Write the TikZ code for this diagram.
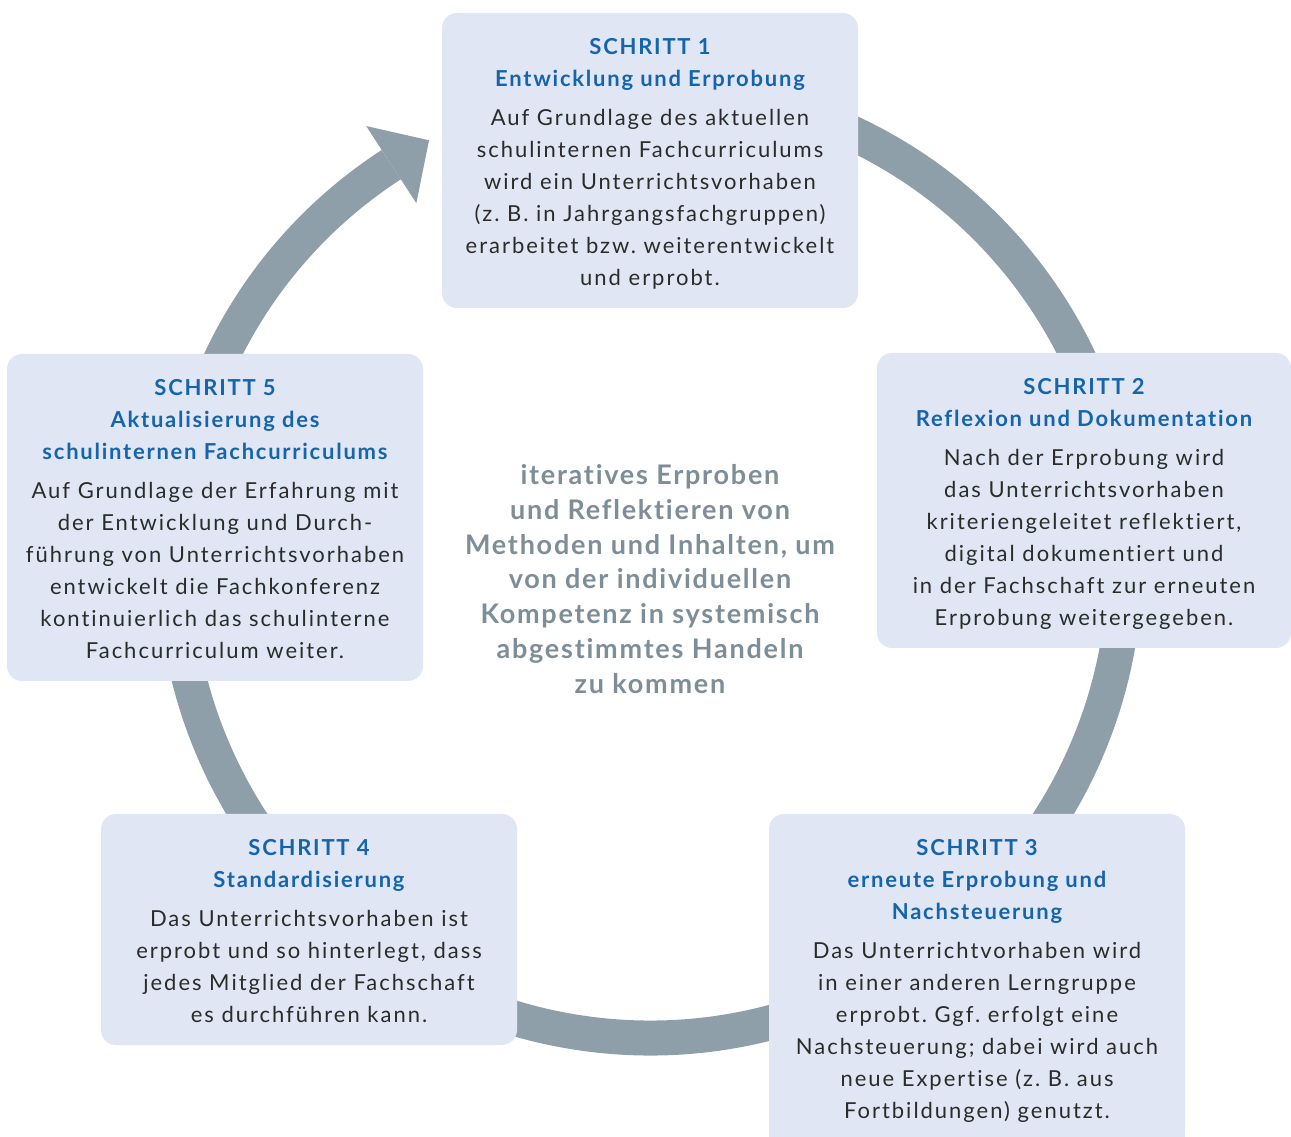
\documentclass[tikz,border=0pt]{standalone}
\usepackage{fontspec}
\setmainfont{Lato}
\usetikzlibrary{calc}
\definecolor{boxfill}{HTML}{E0E6F4}
\definecolor{ringgray}{HTML}{8E9FA9}
\definecolor{titleblue}{HTML}{1464AE}
\definecolor{bodytext}{HTML}{2B2B2B}
\definecolor{centergray}{HTML}{7D8E99}
\newfontfamily\bodyfont[LetterSpace=9,Ligatures=NoCommon]{Lato}
\newfontfamily\titlefont[LetterSpace=8,Ligatures=NoCommon]{Lato}
\newfontfamily\centerfont[LetterSpace=6.5,Ligatures=NoCommon]{Lato}
\newcommand\steptitle[1]{{\titlefont\color{titleblue}\bfseries #1}}
\frenchspacing
\begin{document}
\begin{tikzpicture}[x=1pt,y=1pt,
  stepbox/.style={fill=boxfill, rounded corners=15pt, inner sep=0pt},
  steptext/.style={anchor=north, align=center, inner sep=0pt, text=bodytext,
    font=\bodyfont\fontsize{22}{32}\selectfont\frenchspacing},
  ring/.style={draw=ringgray, line width=35pt},
  centertext/.style={align=center, inner sep=0pt, text=centergray,
    font=\centerfont\fontsize{27}{34.7}\selectfont\bfseries}]
\clip (0,0) rectangle (1291,1136);
\coordinate (C) at (650,573);

% circular cycle arrow behind the boxes
\draw[ring] ($(C)+(-237:475)$) arc[start angle=-237, end angle=110, radius=475];
\fill[ringgray] ($(C)+(123:521)$) -- ($(C)+(117.6:477)$) -- ($(C)+(123:429)$) -- cycle;

% step boxes
\node[stepbox, minimum width=416pt, minimum height=295pt] (s1) at (650,975.5) {};
\node[stepbox, minimum width=414pt, minimum height=295pt] (s2) at (1084,635.5) {};
\node[stepbox, minimum width=416pt, minimum height=336pt] (s3) at (977,154) {};
\node[stepbox, minimum width=416pt, minimum height=231pt] (s4) at (309,206.5) {};
\node[stepbox, minimum width=416pt, minimum height=327pt] (s5) at (215,618.5) {};

\node[steptext] (t1) at ($(s1.north)+(0,-25)$) {%
  \steptitle{SCHRITT 1}\\
  \steptitle{Entwicklung und Erprobung}\\[7pt]
  Auf Grundlage des aktuellen\\
  schulinternen Fachcurriculums\\
  wird ein Unterrichtsvorhaben\\
  (z. B. in Jahrgangsfachgruppen)\\
  erarbeitet bzw. weiterentwickelt\\
  und erprobt.};

\node[steptext] (t2) at ($(s2.north)+(0,-25)$) {%
  \steptitle{SCHRITT 2}\\
  \steptitle{Reflexion und Dokumentation}\\[7pt]
  Nach der Erprobung wird\\
  das Unterrichtsvorhaben\\
  kriteriengeleitet reflektiert,\\
  digital dokumentiert und\\
  in der Fachschaft zur erneuten\\
  Erprobung weitergegeben.};

\node[steptext] (t3) at ($(s3.north)+(0,-25)$) {%
  \steptitle{SCHRITT 3}\\
  \steptitle{erneute Erprobung und}\\
  \steptitle{Nachsteuerung}\\[7pt]
  Das Unterrichtvorhaben wird\\
  in einer anderen Lerngruppe\\
  erprobt. Ggf. erfolgt eine\\
  Nachsteuerung; dabei wird auch\\
  neue Expertise (z. B. aus\\
  Fortbildungen) genutzt.};

\node[steptext] (t4) at ($(s4.north)+(0,-25)$) {%
  \steptitle{SCHRITT 4}\\
  \steptitle{Standardisierung}\\[7pt]
  Das Unterrichtsvorhaben ist\\
  erprobt und so hinterlegt, dass\\
  jedes Mitglied der Fachschaft\\
  es durchführen kann.};

\node[steptext] (t5) at ($(s5.north)+(0,-25)$) {%
  \steptitle{SCHRITT 5}\\
  \steptitle{Aktualisierung des}\\
  \steptitle{schulinternen Fachcurriculums}\\[7pt]
  Auf Grundlage der Erfahrung mit\\
  der Entwicklung und Durch-\\
  führung von Unterrichtsvorhaben\\
  entwickelt die Fachkonferenz\\
  kontinuierlich das schulinterne\\
  Fachcurriculum weiter.};

\node[centertext] (mid) at (650,557) {%
  iteratives Erproben\\
  und Reflektieren von\\
  Methoden und Inhalten, um\\
  von der individuellen\\
  Kompetenz in systemisch\\
  abgestimmtes Handeln\\
  zu kommen};
\end{tikzpicture}
\end{document}
